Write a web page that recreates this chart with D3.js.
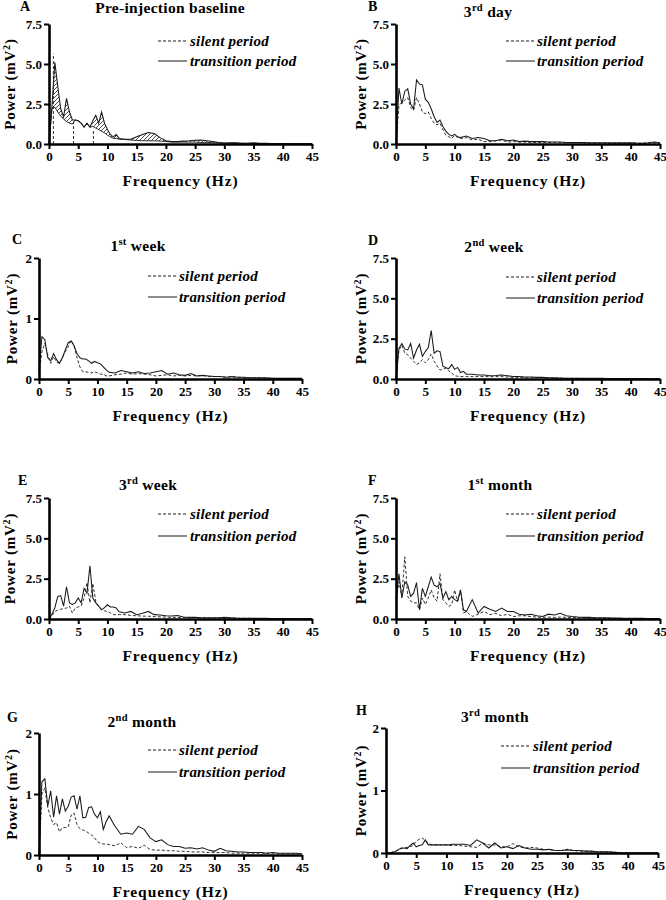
<!DOCTYPE html>
<html><head><meta charset="utf-8">
<script src="https://cdn.jsdelivr.net/npm/d3@7"></script>
<style>
body{margin:0;background:#fff}
</style>
</head><body>
<svg id="c" width="666" height="900"></svg>
<script>
// ---------- DATA ----------
const freqHz = [0,0.5,1,1.5,2,2.5,3,3.5,4,4.5,5,5.5,6,6.5,7,7.5,8,8.5,9,9.5,10,10.5,11,11.5,12,
  13,14,15,16,17,18,19,20,21,22,23,24,25,26,27,28,29,30,31,32,33,34,35,36,37,38,39,40,41,42,43,44,45];

const aTransition = [0,2.3,5.1,3.6,2.2,1.7,2.85,2.0,1.5,1.5,1.45,1.3,1.05,1.3,1.05,1.45,1.8,1.3,2.0,1.3,0.9,0.6,0.45,0.6,0.35,
  0.3,0.3,0.45,0.6,0.72,0.65,0.4,0.2,0.15,0.15,0.18,0.2,0.24,0.25,0.2,0.15,0.1,0.06,0.07,0.08,0.05,0.05,0.08,0.05,0.04,0.03,0.02,0.02,0.01,0.01,0.01,0.01,0.01];
const aSilent = [0,2.2,2.3,2.0,1.75,1.55,1.4,1.3,1.25,1.5,1.45,1.3,1.05,1.3,1.05,1.1,1.0,0.9,0.8,0.7,0.55,0.45,0.35,0.35,0.3,
  0.28,0.25,0.22,0.2,0.2,0.2,0.18,0.15,0.12,0.12,0.12,0.12,0.12,0.1,0.1,0.08,0.07,0.05,0.05,0.05,0.04,0.04,0.04,0.03,0.03,0.02,0.02,0.02,0.01,0.01,0.01,0.01,0.01];
const aDropHz = [0.75, 4.2, 7.6];
const aDropPower = [5.65, 1.4, 0.95];

const bTransition = [0,3.5,2.5,3.3,3.45,2.5,2.2,4.0,3.75,3.7,2.8,2.6,2.2,1.7,1.35,1.5,1.1,0.8,0.6,0.5,0.6,0.45,0.4,0.45,0.5,
  0.35,0.4,0.35,0.2,0.2,0.3,0.2,0.25,0.15,0.18,0.15,0.15,0.15,0.12,0.12,0.12,0.1,0.1,0.1,0.1,0.08,0.08,0.08,0.08,0.07,0.08,0.07,0.08,0.06,0.05,0.08,0.12,0.08];
const bSilent = [0,2.4,2.6,2.75,2.9,2.3,2.1,2.9,2.5,2.0,1.9,2.0,1.6,1.3,1.2,1.3,0.9,0.55,0.45,0.35,0.55,0.4,0.35,0.35,0.4,
  0.25,0.3,0.15,0.15,0.2,0.25,0.12,0.15,0.12,0.12,0.1,0.1,0.1,0.1,0.1,0.08,0.08,0.08,0.07,0.07,0.06,0.06,0.06,0.05,0.05,0.05,0.05,0.06,0.05,0.05,0.06,0.08,0.05];

const cTransition = [0.15,0.7,0.65,0.35,0.3,0.42,0.32,0.26,0.35,0.48,0.6,0.63,0.55,0.42,0.35,0.33,0.33,0.3,0.26,0.29,0.27,0.25,0.2,0.15,0.11,
  0.1,0.14,0.12,0.1,0.12,0.09,0.1,0.12,0.14,0.08,0.1,0.07,0.06,0.09,0.05,0.06,0.05,0.04,0.04,0.03,0.04,0.03,0.03,0.02,0.02,0.02,0.02,0.01,0.01,0.01,0.01,0.01,0.01];
const cSilent = [0.1,0.45,0.59,0.4,0.26,0.37,0.28,0.26,0.35,0.45,0.53,0.64,0.55,0.35,0.2,0.12,0.12,0.11,0.1,0.12,0.1,0.08,0.08,0.05,0.05,
  0.07,0.08,0.1,0.08,0.09,0.08,0.07,0.05,0.06,0.07,0.05,0.06,0.05,0.06,0.05,0.06,0.04,0.04,0.04,0.03,0.03,0.03,0.02,0.02,0.02,0.02,0.01,0.01,0.01,0.01,0.01,0.01,0.01];

const dTransition = [0,1.9,2.2,1.85,1.8,2.2,1.3,1.8,2.15,1.4,1.7,1.95,3.0,1.6,1.75,1.7,0.8,0.7,0.64,0.9,0.6,0.72,0.4,0.48,0.3,
  0.3,0.25,0.25,0.2,0.22,0.25,0.2,0.15,0.15,0.12,0.12,0.1,0.1,0.08,0.07,0.06,0.05,0.05,0.05,0.04,0.04,0.04,0.04,0.03,0.03,0.03,0.03,0.03,0.02,0.02,0.02,0.02,0.02];
const dSilent = [0,1.8,2.1,1.6,1.5,1.3,1.1,0.9,1.0,1.2,1.0,1.2,1.55,1.1,0.8,0.55,0.6,0.68,0.5,0.37,0.2,0.17,0.15,0.15,0.15,
  0.15,0.15,0.15,0.14,0.15,0.15,0.12,0.1,0.1,0.09,0.08,0.08,0.08,0.06,0.05,0.05,0.04,0.04,0.04,0.03,0.03,0.03,0.03,0.03,0.02,0.02,0.02,0.02,0.02,0.02,0.02,0.02,0.02];

const eTransition = [0,0.3,0.7,1.4,1.45,0.8,2.0,1.0,0.9,1.0,1.3,1.0,1.9,1.6,3.3,1.3,1.0,0.8,0.57,0.7,0.88,0.75,0.74,0.68,0.45,
  0.37,0.47,0.27,0.35,0.47,0.27,0.25,0.2,0.18,0.22,0.12,0.1,0.1,0.08,0.08,0.08,0.08,0.1,0.08,0.06,0.05,0.05,0.05,0.04,0.04,0.03,0.03,0.03,0.02,0.02,0.02,0.02,0.02];
const eSilent = [0,0.2,0.47,0.55,0.6,0.65,0.68,0.8,0.37,0.68,0.75,0.8,1.3,2.26,1.0,2.2,1.1,0.75,0.6,0.5,0.47,0.37,0.27,0.27,0.27,
  0.27,0.22,0.2,0.18,0.17,0.15,0.13,0.12,0.1,0.1,0.09,0.08,0.08,0.07,0.07,0.06,0.06,0.06,0.05,0.05,0.04,0.04,0.03,0.03,0.03,0.02,0.02,0.02,0.02,0.02,0.02,0.02,0.02];

const fTransition = [1.2,2.8,1.3,2.3,2.1,1.4,1.6,2.26,0.57,1.9,1.4,2.0,2.6,2.1,2.0,2.2,1.3,1.7,1.2,1.4,1.2,1.1,1.8,0.57,0.47,
  1.2,0.37,0.78,0.6,0.47,0.68,0.47,0.47,0.3,0.25,0.3,0.2,0.15,0.3,0.25,0.35,0.2,0.15,0.12,0.1,0.1,0.08,0.08,0.08,0.06,0.06,0.05,0.05,0.04,0.04,0.03,0.03,0.03];
const fSilent = [1.0,2.3,1.4,3.86,1.4,1.1,1.0,1.0,0.57,1.3,0.9,1.3,1.8,1.3,1.1,2.8,1.2,1.0,0.78,0.9,1.8,1.1,1.8,0.37,0.45,
  0.16,0.3,0.47,0.27,0.35,0.2,0.3,0.15,0.2,0.2,0.15,0.12,0.1,0.12,0.1,0.12,0.1,0.1,0.08,0.07,0.06,0.05,0.05,0.04,0.04,0.03,0.03,0.03,0.02,0.02,0.02,0.02,0.02];

const gTransition = [0,1.2,1.25,0.8,1.05,0.62,0.97,0.67,0.92,0.72,0.8,0.95,0.97,0.75,0.97,0.61,0.62,0.78,0.79,0.67,0.61,0.71,0.42,0.55,0.64,
  0.47,0.34,0.36,0.34,0.47,0.42,0.28,0.22,0.25,0.17,0.14,0.14,0.11,0.12,0.1,0.12,0.08,0.06,0.11,0.07,0.06,0.05,0.05,0.04,0.04,0.04,0.03,0.04,0.03,0.03,0.03,0.03,0.02];
const gSilent = [0,1.0,1.1,0.78,0.61,0.5,0.53,0.38,0.45,0.45,0.46,0.65,0.69,0.5,0.43,0.41,0.39,0.36,0.33,0.28,0.22,0.19,0.18,0.18,0.17,
  0.15,0.2,0.12,0.14,0.11,0.16,0.09,0.08,0.08,0.07,0.07,0.06,0.06,0.05,0.05,0.05,0.04,0.04,0.04,0.04,0.03,0.03,0.03,0.03,0.03,0.03,0.03,0.03,0.02,0.02,0.02,0.02,0.02];

const hTransition = [0,0,0.01,0.02,0.05,0.08,0.08,0.07,0.12,0.16,0.1,0.12,0.13,0.21,0.13,0.13,0.13,0.13,0.13,0.13,0.13,0.13,0.14,0.14,0.14,
  0.14,0.12,0.21,0.16,0.08,0.16,0.08,0.1,0.07,0.12,0.08,0.06,0.06,0.05,0.06,0.04,0.04,0.05,0.04,0.04,0.03,0.03,0.02,0.02,0.02,0.01,0,0,0,0,0,0,0];
const hSilent = [0,0,0.01,0.03,0.05,0.07,0.08,0.09,0.1,0.12,0.19,0.22,0.24,0.2,0.16,0.13,0.13,0.13,0.13,0.13,0.13,0.12,0.12,0.12,0.12,
  0.11,0.1,0.09,0.16,0.13,0.13,0.1,0.1,0.15,0.1,0.08,0.09,0.08,0.06,0.05,0.04,0.04,0.06,0.04,0.03,0.03,0.02,0.02,0.02,0.01,0.01,0,0,0,0,0,0,0];

const xTicks = [0,5,10,15,20,25,30,35,40,45];
const yTicksLarge = [0,2.5,5,7.5];
const yTicksSmall = [0,1,2];
const legendLabels = ["silent period","transition period"];
const panelLetters = ["A","B","C","D","E","F","G","H"];
const panelTitles = [["Pre-injection baseline"],["3","rd"," day"],["1","st"," week"],["2","nd"," week"],
  ["3","rd"," week"],["1","st"," month"],["2","nd"," month"],["3","rd"," month"]];
const xAxisTitle = "Frequency (Hz)";

// ---------- LAYOUT ----------
const layout = [
  {x0:49,x1:312,yT:24,yB:144,big:true,lx:20,ly:11,tx:170,ty:13,ytx:15,leg:[158,187,190,41,61]},
  {x0:396,x1:660,yT:24,yB:144,big:true,lx:368,ly:11,tx:488,ty:17,ytx:366,leg:[506,535,537,41,61]},
  {x0:39,x1:302,yT:258,yB:379,big:false,lx:12,ly:244,tx:138,ty:251,ytx:17,leg:[148,177,179,276,297]},
  {x0:396,x1:660,yT:258,yB:379,big:true,lx:368,ly:245,tx:494,ty:252,ytx:366,leg:[506,535,537,277,298]},
  {x0:49,x1:312,yT:498,yB:619,big:true,lx:18,ly:485,tx:148,ty:490,ytx:15,leg:[158,187,190,514,536]},
  {x0:396,x1:660,yT:498,yB:619,big:true,lx:368,ly:485,tx:500,ty:490,ytx:366,leg:[506,535,537,514,536]},
  {x0:39,x1:302,yT:733,yB:855,big:false,lx:7,ly:722,tx:142,ty:727,ytx:17,leg:[148,177,179,750,772]},
  {x0:386,x1:658,yT:728,yB:853,big:false,lx:356,ly:715,tx:495,ty:722,ytx:366,leg:[501,530,533,746,768]}
];
const series = [
  [aTransition,aSilent],[bTransition,bSilent],[cTransition,cSilent],[dTransition,dSilent],
  [eTransition,eSilent],[fTransition,fSilent],[gTransition,gSilent],[hTransition,hSilent]
];

const FONT = '"Liberation Serif", serif';
const svg = d3.select("#c");
const defs = svg.append("defs");
const pat = defs.append("pattern").attr("id","hatch").attr("patternUnits","userSpaceOnUse")
  .attr("width",4).attr("height",4);
pat.append("path").attr("d","M-1,1 l2,-2 M0,4 l4,-4 M3,5 l2,-2")
  .attr("stroke","#111").attr("stroke-width",0.75);

const LC = "#1a1a1a";
function txt(sel, size, italic){
  return sel.attr("font-family",FONT).attr("font-weight","bold").attr("font-size",size)
    .attr("font-style",italic?"italic":"normal").attr("fill","#000");
}

layout.forEach((p,i)=>{
  const [trans, silent] = series[i];
  const ymax = p.big ? 7.5 : 2;
  const x = d3.scaleLinear().domain([0,45]).range([p.x0,p.x1]);
  const y = d3.scaleLinear().domain([0,ymax]).range([p.yB,p.yT]);
  const g = svg.append("g");
  const line = d3.line().x((d,k)=>x(freqHz[k])).y(d=>y(d));

  if (i===0) {
    const area = d3.area().x((d,k)=>x(freqHz[k])).y0((d,k)=>y(silent[k])).y1(d=>y(d));
    g.append("path").datum(trans).attr("d",area).attr("fill","url(#hatch)");
    g.append("path").datum(silent).attr("d",line).attr("fill","none")
      .attr("stroke",LC).attr("stroke-width",0.9);
    g.selectAll(".drop").data(aDropHz).enter().append("path")
      .attr("d",(d,k)=>d3.line()([[x(d),y(0)],[x(d),y(aDropPower[k])]]))
      .attr("stroke",LC).attr("stroke-width",0.9).attr("stroke-dasharray","3,2").attr("fill","none");
  } else {
    g.append("path").datum(silent).attr("d",line).attr("fill","none")
      .attr("stroke",LC).attr("stroke-width",0.9).attr("stroke-dasharray","3,2");
  }
  g.append("path").datum(trans).attr("d",line).attr("fill","none")
    .attr("stroke",LC).attr("stroke-width",1.05);

  // axes
  const xa = g.append("g").attr("transform",`translate(0,${p.yB})`)
    .call(d3.axisBottom(x).tickValues(xTicks).tickSize(5).tickSizeOuter(0).tickPadding(3));
  const ya = g.append("g").attr("transform",`translate(${p.x0},0)`)
    .call(d3.axisLeft(y).tickValues(p.big?yTicksLarge:yTicksSmall)
      .tickFormat(p.big?d3.format(".1f"):d3.format("d")).tickSize(5).tickSizeOuter(0).tickPadding(2));
  [xa,ya].forEach(a=>{
    a.attr("font-family",FONT).attr("font-size",13);
    a.select(".domain").attr("stroke","#000").attr("stroke-width",2.6);
    a.selectAll(".tick line").attr("stroke","#000").attr("stroke-width",2);
    txt(a.selectAll(".tick text"), 13);
  });

  // axis titles
  txt(g.append("text"),15.5).attr("x",(p.x0+p.x1)/2).attr("y",p.yB+42).attr("text-anchor","middle")
    .attr("letter-spacing",0.9).text(xAxisTitle);
  const yt = txt(g.append("text"),15).attr("transform",`translate(${p.ytx},${(p.yT+p.yB)/2}) rotate(-90)`)
    .attr("text-anchor","middle").attr("letter-spacing",0.8);
  yt.append("tspan").text("Power (mV");
  yt.append("tspan").attr("dy",-5).attr("font-size",10).text("2");
  yt.append("tspan").attr("dy",5).text(")");

  // letter
  txt(g.append("text"),14).attr("x",p.lx).attr("y",p.ly).text(panelLetters[i]);
  // title
  const parts = panelTitles[i];
  const tt = txt(g.append("text"),15.5).attr("x",p.tx).attr("y",p.ty).attr("text-anchor","middle")
    .attr("letter-spacing",0.3);
  if (parts.length===1) tt.text(parts[0]);
  else {
    tt.append("tspan").text(parts[0]);
    tt.append("tspan").attr("dy",-6).attr("font-size",10.5).text(parts[1]);
    tt.append("tspan").attr("dy",6).text(parts[2]);
  }
  // legend
  const [l1,l2,tx,y1,y2] = p.leg;
  g.append("line").attr("x1",l1).attr("x2",l2).attr("y1",y1).attr("y2",y1)
    .attr("stroke",LC).attr("stroke-width",1).attr("stroke-dasharray","3,2");
  g.append("line").attr("x1",l1).attr("x2",l2).attr("y1",y2).attr("y2",y2)
    .attr("stroke",LC).attr("stroke-width",1);
  [y1,y2].forEach((yy,k)=>{
    txt(g.append("text"),15,true).attr("x",tx).attr("y",yy+4.5).attr("letter-spacing",0.2).text(legendLabels[k]);
  });
});
</script>
</body></html>
